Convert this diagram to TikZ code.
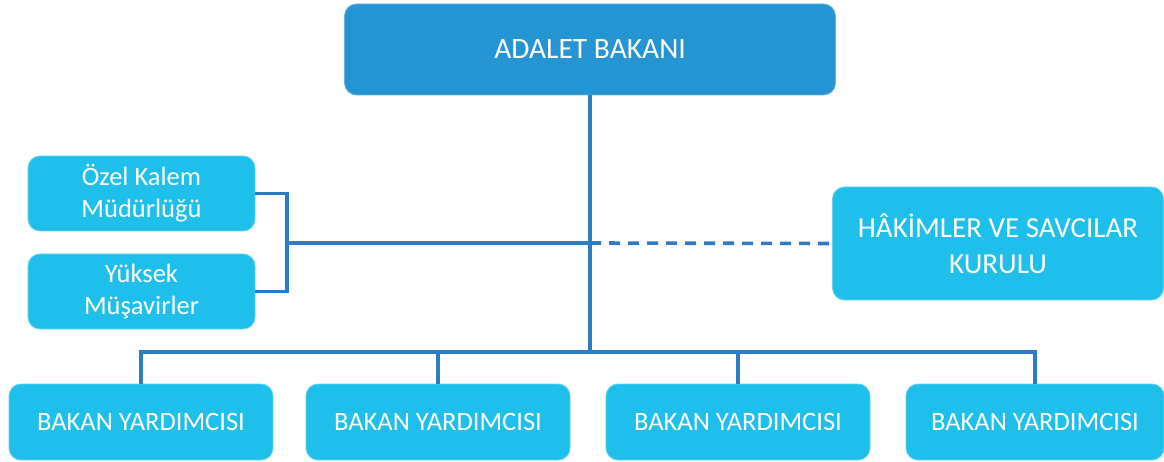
\documentclass[tikz,border=0pt]{standalone}
\usepackage{fontspec}
\setmainfont{Carlito}
\definecolor{linec}{HTML}{2E7BC4}
\definecolor{topc}{HTML}{2594D3}
\definecolor{boxc}{HTML}{1EC0EB}
\begin{document}
\begin{tikzpicture}[x=1pt,y=-1pt,
  box/.style={rectangle,rounded corners=12pt,fill=boxc,draw=boxc!70!white,line width=0.8pt,text=white,align=center,inner sep=0pt},
  conn/.style={draw=linec,line width=3.6pt},
  dconn/.style={conn,dash pattern=on 11pt off 8pt}]
\useasboundingbox (0,0) rectangle (1164,462);
\node[box,fill=topc,draw=topc!70!white,minimum width=491pt,minimum height=91pt,font=\fontsize{29.5}{34}\selectfont] (top) at (590,49.5) {ADALET BAKANI};
\node[box,minimum width=227pt,minimum height=75pt,font=\fontsize{26.5}{32}\selectfont] (oz) at (141.5,193.5) {Özel Kalem\\Müdürlüğü};
\node[box,minimum width=227pt,minimum height=75pt,font=\fontsize{26.5}{32}\selectfont] (yu) at (141.5,291.5) {Yüksek\\Müşavirler};
\node[box,minimum width=331pt,minimum height=113pt,font=\fontsize{29}{36}\selectfont] (hsk) at (998,243.5) {HÂKİMLER VE SAVCILAR\\KURULU};
\node[box,minimum width=264pt,minimum height=76pt,font=\fontsize{26.5}{30}\selectfont] (b1) at (141,422) {BAKAN YARDIMCISI};
\node[box,minimum width=264pt,minimum height=76pt,font=\fontsize{26.5}{30}\selectfont] (b2) at (438,422) {BAKAN YARDIMCISI};
\node[box,minimum width=264pt,minimum height=76pt,font=\fontsize{26.5}{30}\selectfont] (b3) at (738,422) {BAKAN YARDIMCISI};
\node[box,minimum width=258pt,minimum height=76pt,font=\fontsize{26.5}{30}\selectfont] (b4) at (1035,422) {BAKAN YARDIMCISI};
\coordinate (bus) at (590,352);
\coordinate (br) at (287,243);
\coordinate (j) at (590,243);
\path[conn] (top.south) -- (bus);
\path[conn] (b1.north) |- (bus) -| (b4.north);
\path[conn] (b2.north) -- (b2.north |- bus);
\path[conn] (b3.north) -- (b3.north |- bus);
\path[conn] (oz.east) -| (br) |- (yu.east);
\path[conn] (br) -- (j);
\path[dconn] (j) -- (hsk.west);
\end{tikzpicture}
\end{document}
